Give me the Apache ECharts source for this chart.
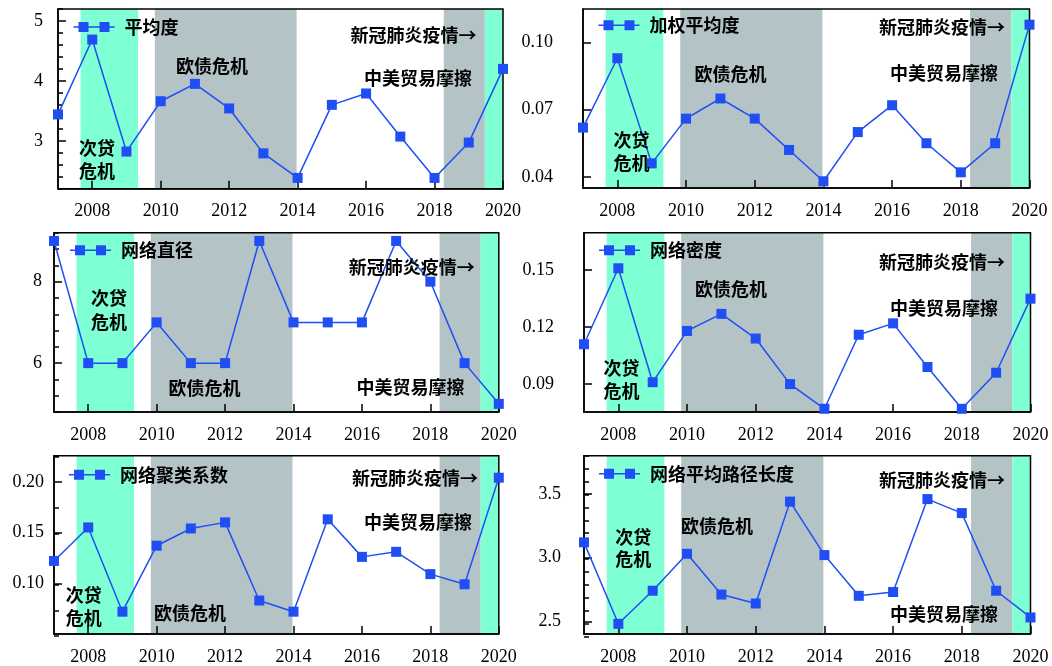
<!DOCTYPE html>
<html>
<head>
<meta charset="utf-8">
<script src="https://cdn.jsdelivr.net/npm/echarts@6/dist/echarts.min.js"></script>
<style>
html, body { margin: 0; padding: 0; background: #fff; }
#chart { width: 1052px; height: 666px; }
</style>
</head>
<body>
<div id="chart"></div>
<script>
// ---- data ----
const years = [2007, 2008, 2009, 2010, 2011, 2012, 2013, 2014, 2015, 2016, 2017, 2018, 2019, 2020];
const yearTicks = [2008, 2010, 2012, 2014, 2016, 2018, 2020];

const avgDegree         = [3.44, 4.69, 2.82, 3.66, 3.95, 3.54, 2.79, 2.38, 3.60, 3.79, 3.07, 2.38, 2.97, 4.20];
const weightedAvgDegree = [0.062, 0.093, 0.046, 0.066, 0.075, 0.066, 0.052, 0.038, 0.060, 0.072, 0.055, 0.042, 0.055, 0.108];
const diameter          = [9, 6, 6, 7, 6, 6, 9, 7, 7, 7, 9, 8, 6, 5];
const density           = [0.111, 0.151, 0.091, 0.118, 0.127, 0.114, 0.090, 0.077, 0.116, 0.122, 0.099, 0.077, 0.096, 0.135];
const clustering        = [0.122, 0.155, 0.072, 0.137, 0.154, 0.160, 0.083, 0.072, 0.163, 0.126, 0.131, 0.109, 0.099, 0.204];
const avgPathLength     = [3.12, 2.48, 2.74, 3.03, 2.71, 2.64, 3.44, 3.02, 2.70, 2.73, 3.46, 3.35, 2.74, 2.53];

// y-axis tick labels of each panel
const ticksAvgDegree = [3, 4, 5];
const ticksWeighted  = [0.04, 0.07, 0.10];
const ticksDiameter  = [6, 8];
const ticksDensity   = [0.09, 0.12, 0.15];
const ticksCluster   = [0.10, 0.15, 0.20];
const ticksPath      = [2.5, 3.0, 3.5];

// event periods (years)
const subprimeCrisis = [2007.66, 2009.34];
const euroDebtCrisis = [2009.83, 2013.97];
const tradeFriction  = [2018.27, 2019.47];
const covidOutbreak  = [2019.47, 2020];

const eventNames = {
  subprime: '次贷\n危机',
  euro: '欧债危机',
  trade: '中美贸易摩擦',
  covid: '新冠肺炎疫情→'
};

// ---- styles ----
const BLUE = '#1f4ef5';
const MINT = '#7fffd4';
const GRAY = '#b4c3c6';
const CJK = '"Noto Sans CJK SC"';
const SERIF = '"Liberation Serif", "Times New Roman", serif';
const LEGEND_ICON = 'path://M0,4.2h41v1.6h-41z M5,0h10v10h-10z M26,0h10v10h-10z';

// ---- panel layout ----
const panels = [
  { name: '平均度', data: avgDegree, ticks: ticksAvgDegree, min: 2.2, max: 5.2, minorStep: 0.2, digits: 0, labelMargin: 15,
    grid: { left: 58, top: 9, width: 445, height: 179.7 }, legend: [73.5, 27],
    notes: { covid: [350.5, 35.4], euro: [176, 65.7], trade: [364, 78.2], subprime: [79, 159.6, 22.6] } },
  { name: '加权平均度', data: weightedAvgDegree, ticks: ticksWeighted, min: 0.035, max: 0.115, minorStep: 0, digits: 2, labelMargin: 30,
    grid: { left: 583, top: 9, width: 446.5, height: 179 }, legend: [598.5, 25.3],
    notes: { covid: [879, 27.6], euro: [694.5, 74], trade: [890, 73.5], subprime: [613.6, 151.6, 23.5] } },
  { name: '网络直径', data: diameter, ticks: ticksDiameter, min: 4.8, max: 9.2, minorStep: 0.4, digits: 0, labelMargin: 12,
    grid: { left: 54, top: 232.8, width: 444.8, height: 179.2 }, legend: [70, 250.3],
    notes: { covid: [348.8, 267.2], euro: [168.5, 388.5], trade: [356.5, 386.8], subprime: [91, 310.2, 23.5] } },
  { name: '网络密度', data: density, ticks: ticksDensity, min: 0.0753, max: 0.1697, minorStep: 0, digits: 2, labelMargin: 30,
    grid: { left: 584, top: 232.8, width: 446.5, height: 179.2 }, legend: [599, 250.3],
    notes: { covid: [879, 262.1], euro: [695, 289], trade: [890, 308.6], subprime: [603.5, 379.7, 22.9] } },
  { name: '网络聚类系数', data: clustering, ticks: ticksCluster, min: 0.05, max: 0.2256, minorStep: 0.025, digits: 2, labelMargin: 10,
    grid: { left: 54, top: 455.8, width: 444.8, height: 180.2 }, legend: [69, 474.7],
    notes: { covid: [352, 478], euro: [154, 613.6], trade: [364, 522.6], subprime: [65.7, 606.5, 23] } },
  { name: '网络平均路径长度', data: avgPathLength, ticks: ticksPath, min: 2.40, max: 3.80, minorStep: 0.1, digits: 1, labelMargin: 23,
    grid: { left: 584, top: 455.8, width: 446.5, height: 180.7 }, legend: [599, 473.7],
    notes: { covid: [879, 479.8], euro: [681, 526], trade: [890, 614.6], subprime: [615.3, 548.3, 22.6] } }
];

const option = {
  animation: false,
  backgroundColor: '#fff',
  grid: [], xAxis: [], yAxis: [], series: [], legend: [], graphic: []
};

panels.forEach((p, i) => {
  const g = option.grid.length;
  const xi = option.xAxis.length;
  const yi = option.yAxis.length;

  // main plotting area; its border forms the box around the panel
  option.grid.push(Object.assign({ containLabel: false, show: true, z: 2, borderColor: '#000', borderWidth: 1.5,
                                   backgroundColor: 'transparent' }, p.grid));

  option.xAxis.push({
    type: 'value', gridIndex: g, position: 'bottom', min: 2007, max: 2020, z: 3,
    axisLine: { show: true, onZero: false, lineStyle: { color: '#000', width: 1.5 } },
    axisTick: { show: true, inside: true, length: 8, customValues: yearTicks, lineStyle: { color: '#000', width: 1.5 } },
    axisLabel: { show: true, customValues: yearTicks, margin: 14, color: '#000', fontFamily: SERIF, fontSize: 18,
                 formatter: v => String(v) },
    splitLine: { show: false }
  });

  option.yAxis.push({
    type: 'value', gridIndex: g, position: 'left', min: p.min, max: p.max, z: 3,
    axisLine: { show: true, onZero: false, lineStyle: { color: '#000', width: 1.5 } },
    axisTick: { show: true, inside: true, length: 8, customValues: p.ticks, lineStyle: { color: '#000', width: 1.5 } },
    axisLabel: { show: true, customValues: p.ticks, margin: p.labelMargin, color: '#000', fontFamily: SERIF, fontSize: 18,
                 formatter: v => Number(v).toFixed(p.digits) },
    splitLine: { show: false }
  });

  // overlay area carrying the minor ticks of the left axis
  if (p.minorStep > 0) {
    const g2 = option.grid.length;
    option.grid.push(Object.assign({ containLabel: false }, p.grid));
    option.xAxis.push({ type: 'value', gridIndex: g2, min: 2007, max: 2020, show: false });
    option.yAxis.push({
      type: 'value', gridIndex: g2, position: 'left', min: p.min, max: p.max, interval: p.minorStep, z: 3,
      axisLine: { show: false, onZero: false },
      axisTick: { show: true, inside: true, length: 5, lineStyle: { color: '#000', width: 1.5 } },
      axisLabel: { show: false }, splitLine: { show: false }
    });
  }

  option.series.push({
    type: 'line', name: p.name, xAxisIndex: xi, yAxisIndex: yi,
    data: years.map((y, k) => [y, p.data[k]]),
    symbol: 'rect', symbolSize: 10, clip: false, z: 5,
    lineStyle: { color: BLUE, width: 1.5 },
    itemStyle: { color: BLUE },
    markArea: {
      silent: true,
      data: [
        [{ xAxis: subprimeCrisis[0], itemStyle: { color: MINT } }, { xAxis: subprimeCrisis[1] }],
        [{ xAxis: euroDebtCrisis[0], itemStyle: { color: GRAY } }, { xAxis: euroDebtCrisis[1] }],
        [{ xAxis: tradeFriction[0], itemStyle: { color: GRAY } }, { xAxis: tradeFriction[1] }],
        [{ xAxis: covidOutbreak[0], itemStyle: { color: MINT } }, { xAxis: covidOutbreak[1] }]
      ]
    }
  });

  option.legend.push({
    data: [p.name], left: p.legend[0], top: p.legend[1] - 9, padding: 0,
    icon: LEGEND_ICON, itemWidth: 41, itemHeight: 10, selectedMode: false,
    itemStyle: { color: BLUE, borderWidth: 0 },
    textStyle: { fontFamily: CJK, fontSize: 18, fontWeight: 'bold', color: '#000', padding: [0, 0, 0, 5] }
  });

  const n = p.notes;
  const note = (text, pos, lh) => ({
    type: 'text', x: pos[0], y: pos[1], z: 10, silent: true,
    style: { text: text, fill: '#000', font: 'bold 18px ' + CJK, align: 'left', verticalAlign: 'middle', lineHeight: lh || 22 }
  });
  option.graphic.push(note(eventNames.covid, n.covid));
  option.graphic.push(note(eventNames.euro, n.euro));
  option.graphic.push(note(eventNames.trade, n.trade));
  option.graphic.push(note(eventNames.subprime, n.subprime, n.subprime[2]));
});

const chart = echarts.init(document.getElementById('chart'), null, { renderer: 'canvas' });
chart.setOption(option);
</script>
</body>
</html>
